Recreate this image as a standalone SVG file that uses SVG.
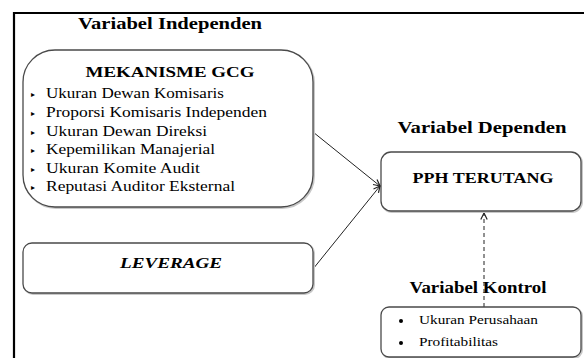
<svg xmlns="http://www.w3.org/2000/svg" width="584" height="358" viewBox="0 0 584 358">
<style>
.box{fill:#fff;stroke:#4a4a4a;stroke-width:1.3}
.shadow{fill:none;stroke:#c8c8c8;stroke-width:2}
text{font-family:'Liberation Serif','DejaVu Serif','Times New Roman',serif;fill:#000}
.h{font-weight:bold;font-size:17px;text-anchor:middle}
.n{font-weight:bold;font-size:15px;text-anchor:middle}
.t{font-size:14.5px}
.b{font-size:8px}
.s{font-size:12.5px}
.con{fill:none;stroke:#222;stroke-width:1}
</style>
<defs>
<marker id="arr" viewBox="0 0 10 10" refX="9" refY="5" markerWidth="8" markerHeight="8" orient="auto" markerUnits="userSpaceOnUse">
<path d="M1,1 L9,5 L1,9" fill="none" stroke="#222" stroke-width="1.5"/>
</marker>
</defs>
<rect width="584" height="358" fill="#fff"/>
<path d="M14,358 V13 H584" fill="none" stroke="#000" stroke-width="2.2"/>
<text class="h" x="170" y="29" textLength="184" lengthAdjust="spacingAndGlyphs">Variabel Independen</text>
<text class="h" x="482" y="133" textLength="169" lengthAdjust="spacingAndGlyphs">Variabel Dependen</text>
<text class="h" x="478" y="293" textLength="137" lengthAdjust="spacingAndGlyphs">Variabel Kontrol</text>
<g id="connectors">
<line class="con" x1="313" y1="132" x2="380" y2="186" marker-end="url(#arr)"/>
<line class="con" x1="313" y1="269" x2="380" y2="186" marker-end="url(#arr)"/>
<line class="con" x1="484" y1="307" x2="484" y2="213" stroke-dasharray="4,3" marker-end="url(#arr)"/>
</g>
<g id="gcg">
<rect class="shadow" x="24" y="51" width="290" height="157" rx="32"/>
<rect class="box" x="23" y="50" width="290" height="157" rx="32"/>
<text class="n" x="170" y="77" textLength="169" lengthAdjust="spacingAndGlyphs">MEKANISME GCG</text>
<text class="b" x="31" y="97">▸</text>
<text class="t" x="46" y="98" textLength="178" lengthAdjust="spacingAndGlyphs">Ukuran Dewan Komisaris</text>
<text class="b" x="31" y="116">▸</text>
<text class="t" x="46" y="117" textLength="221" lengthAdjust="spacingAndGlyphs">Proporsi Komisaris Independen</text>
<text class="b" x="31" y="135">▸</text>
<text class="t" x="46" y="136" textLength="161" lengthAdjust="spacingAndGlyphs">Ukuran Dewan Direksi</text>
<text class="b" x="31" y="153">▸</text>
<text class="t" x="46" y="154" textLength="169" lengthAdjust="spacingAndGlyphs">Kepemilikan Manajerial</text>
<text class="b" x="31" y="172">▸</text>
<text class="t" x="46" y="173" textLength="154" lengthAdjust="spacingAndGlyphs">Ukuran Komite Audit</text>
<text class="b" x="31" y="190">▸</text>
<text class="t" x="46" y="191" textLength="189" lengthAdjust="spacingAndGlyphs">Reputasi Auditor Eksternal</text>
</g>
<g id="leverage">
<rect class="shadow" x="24" y="244" width="290" height="50" rx="9"/>
<rect class="box" x="23" y="243" width="290" height="50" rx="9"/>
<text class="n" x="171" y="268" style="font-style:italic" textLength="102" lengthAdjust="spacingAndGlyphs">LEVERAGE</text>
</g>
<g id="pph">
<rect class="shadow" x="382" y="153" width="200" height="59" rx="10"/>
<rect class="box" x="381" y="152" width="200" height="59" rx="10"/>
<text class="n" x="483" y="183" textLength="141" lengthAdjust="spacingAndGlyphs">PPH TERUTANG</text>
</g>
<g id="kontrol">
<rect class="shadow" x="382" y="308" width="200" height="50" rx="8"/>
<rect class="box" x="381" y="307" width="200" height="50" rx="8"/>
<circle cx="401" cy="321" r="2" fill="#000"/>
<text class="s" x="419" y="324" textLength="119" lengthAdjust="spacingAndGlyphs">Ukuran Perusahaan</text>
<circle cx="401" cy="343" r="2" fill="#000"/>
<text class="s" x="419" y="346" textLength="79" lengthAdjust="spacingAndGlyphs">Profitabilitas</text>
</g>
</svg>
